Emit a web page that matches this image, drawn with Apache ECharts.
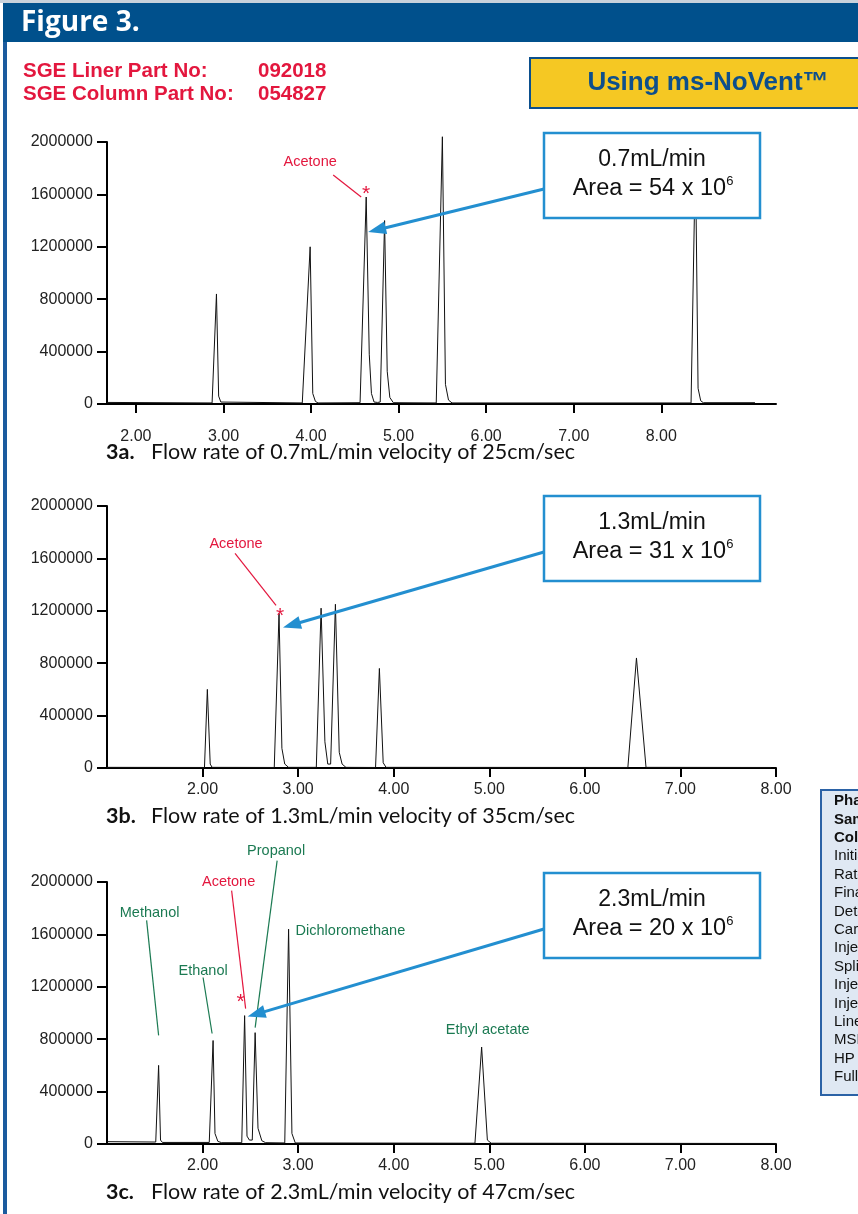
<!DOCTYPE html>
<html>
<head>
<meta charset="utf-8">
<title>Figure 3</title>
<script src="https://cdn.jsdelivr.net/npm/echarts@6/dist/echarts.min.js"></script>
<style>
  html, body { margin: 0; padding: 0; background: #fff; }
  #chart { width: 858px; height: 1214px; }
</style>
</head>
<body>
<div id="chart"></div>
<script>
// values
const yTicks = [0, 400000, 800000, 1200000, 1600000, 2000000];
const xTicks = [2, 3, 4, 5, 6, 7, 8];

// chromatogram traces [time (min), abundance]
const traceA = [
    [1.67, 12000], [2.87, 8000], [2.92, 840000], [2.945, 60000], [2.97, 15000], [2.99, 8000],
    [3.90, 8000], [3.99, 1200000], [4.02, 80000], [4.05, 20000], [4.08, 8000],
    [4.56, 10000], [4.63, 1580000], [4.665, 380000], [4.69, 80000], [4.72, 15000], [4.76, 12000],
    [4.79, 15000], [4.84, 1400000], [4.87, 250000], [4.90, 50000], [4.94, 10000],
    [5.43, 8000], [5.50, 2040000], [5.535, 150000], [5.57, 30000], [5.61, 8000],
    [8.34, 8000], [8.39, 1900000], [8.42, 120000], [8.45, 25000], [8.48, 10000],
    [9.07, 10000]
];
const traceB = [
    [1.0, 5000], [2.02, 4000], [2.05, 600000], [2.08, 30000], [2.10, 5000],
    [2.75, 4000], [2.80, 1180000], [2.83, 150000], [2.86, 30000], [2.90, 5000],
    [3.19, 5000], [3.24, 1220000], [3.28, 200000], [3.31, 30000], [3.33, 20000],
    [3.34, 30000], [3.39, 1250000], [3.43, 120000], [3.46, 30000], [3.50, 5000],
    [3.81, 4000], [3.85, 760000], [3.89, 40000], [3.92, 5000],
    [6.45, 4000], [6.54, 840000], [6.64, 5000],
    [7.95, 4000]
];
const traceC = [
    [1.0, 18000], [1.51, 15000], [1.54, 600000], [1.56, 30000], [1.58, 12000],
    [2.07, 12000], [2.11, 790000], [2.13, 80000], [2.16, 20000], [2.20, 10000],
    [2.41, 10000], [2.44, 980000], [2.465, 60000], [2.49, 30000], [2.52, 30000],
    [2.55, 850000], [2.58, 120000], [2.62, 25000], [2.66, 10000],
    [2.86, 8000], [2.90, 1640000], [2.935, 80000], [2.97, 8000],
    [4.85, 6000], [4.92, 740000], [4.98, 30000], [5.02, 6000],
    [8.0, 4000]
];

// named peaks
const peakNamesA = ['Acetone'];
const peakTimesA = [4.63];
const peakHeightsA = [1580000];
const peakNamesB = ['Acetone'];
const peakTimesB = [2.80];
const peakHeightsB = [1180000];
const peakNamesC = ['Methanol', 'Ethanol', 'Acetone', 'Propanol', 'Dichloromethane', 'Ethyl acetate'];
const peakTimesC = [1.54, 2.11, 2.44, 2.55, 2.90, 4.92];
const peakHeightsC = [600000, 790000, 980000, 850000, 1640000, 740000];

const flowRates = ['0.7mL/min', '1.3mL/min', '2.3mL/min'];
const areas = [54, 31, 20];
const captionIds = ['3a.', '3b.', '3c.'];
const captionTexts = [
    'Flow rate of 0.7mL/min velocity of 25cm/sec',
    'Flow rate of 1.3mL/min velocity of 35cm/sec',
    'Flow rate of 2.3mL/min velocity of 47cm/sec'
];
const conditions = ['Phase:', 'Sample:', 'Column:', 'Initial Temp:', 'Rate:', 'Final Temp:', 'Detector:',
    'Carrier Gas:', 'Injector Temp:', 'Split:', 'Injection Volume:', 'Injection Mode:', 'Liner:',
    'MSD:', 'HP 6890', 'Full scan'];

// look
const SANS = "'Liberation Sans', Arial, Helvetica, sans-serif";
const RED = '#e3173e';
const GREEN = '#1b7a52';
const CALLOUT = '#238fd0';
const NAVY = '#00508c';

const gridTops = [142, 506, 882];
const GRID_H = 262;
const xLabelMargin = [25, 14, 14];

const chart = echarts.init(document.getElementById('chart'), null, { renderer: 'canvas' });

function xAxisFor(i, min, max) {
    return {
        type: 'value', gridIndex: i, min: min, max: max,
        axisLine: { show: true, onZero: false, lineStyle: { color: '#000', width: 2 } },
        axisTick: { show: true, length: 9, customValues: xTicks, lineStyle: { color: '#000', width: 2 } },
        axisLabel: {
            customValues: xTicks, margin: xLabelMargin[i], color: '#222', fontSize: 16, fontFamily: SANS,
            formatter: function (v) { return v.toFixed(2); }
        },
        splitLine: { show: false }
    };
}
function yAxisFor(i) {
    return {
        type: 'value', gridIndex: i, min: 0, max: 2000000, interval: 400000,
        axisLine: { show: true, lineStyle: { color: '#000', width: 2 } },
        axisTick: { show: true, length: 10, lineStyle: { color: '#000', width: 2 } },
        axisLabel: {
            margin: 14, color: '#222', fontSize: 16, fontFamily: SANS,
            formatter: function (v) { return String(v); }
        },
        splitLine: { show: false }
    };
}
function traceSeries(i, data) {
    return {
        type: 'line', xAxisIndex: i, yAxisIndex: i, data: data,
        symbol: 'none', smooth: false, clip: false, silent: true,
        lineStyle: { color: '#111', width: 1 }, z: 3
    };
}

chart.setOption({
    animation: false,
    backgroundColor: '#fff',
    grid: gridTops.map(function (t) {
        return { left: 107, top: t, width: 669, height: GRID_H, containLabel: false, outerBoundsMode: 'none' };
    }),
    xAxis: [xAxisFor(0, 1.67, 9.31), xAxisFor(1, 1, 8), xAxisFor(2, 1, 8)],
    yAxis: [yAxisFor(0), yAxisFor(1), yAxisFor(2)],
    series: [traceSeries(0, traceA), traceSeries(1, traceB), traceSeries(2, traceC)]
});

// ---- annotations ----
const g = [];

// frame and header
g.push({ type: 'rect', shape: { x: 0, y: 0, width: 858, height: 3 }, style: { fill: '#c8d2dc' }, z: 50 });
g.push({ type: 'rect', shape: { x: 3, y: 3, width: 855, height: 39 }, style: { fill: NAVY }, z: 50 });
g.push({ type: 'rect', shape: { x: 3, y: 42, width: 4, height: 1172 }, style: { fill: '#1b5b9e' }, z: 50 });
g.push({ type: 'text', x: 21, y: 23, z: 51, style: {
    text: 'Figure 3.', fill: '#fff', font: "bold 28px 'Open Sans', sans-serif", verticalAlign: 'middle' } });

g.push({ type: 'text', x: 23, y: 71, z: 51, style: { text: 'SGE Liner Part No:', fill: RED,
    font: 'bold 20.5px ' + SANS, verticalAlign: 'middle' } });
g.push({ type: 'text', x: 258, y: 71, z: 51, style: { text: '092018', fill: RED,
    font: 'bold 20.5px ' + SANS, verticalAlign: 'middle' } });
g.push({ type: 'text', x: 23, y: 94.5, z: 51, style: { text: 'SGE Column Part No:', fill: RED,
    font: 'bold 20.5px ' + SANS, verticalAlign: 'middle' } });
g.push({ type: 'text', x: 258, y: 94.5, z: 51, style: { text: '054827', fill: RED,
    font: 'bold 20.5px ' + SANS, verticalAlign: 'middle' } });

g.push({ type: 'rect', shape: { x: 530, y: 58, width: 340, height: 50 }, z: 50,
    style: { fill: '#f5c823', stroke: '#0b4f8d', lineWidth: 2 } });
g.push({ type: 'text', x: 708, y: 83, z: 51, style: { text: 'Using ms-NoVent\u2122', fill: '#0d4f8c',
    font: 'bold 26px ' + SANS, align: 'center', verticalAlign: 'middle' } });

// conditions box on the right, cut by the page edge
g.push({ type: 'rect', shape: { x: 821, y: 790, width: 60, height: 305 }, z: 50,
    style: { fill: '#dfe8f3', stroke: '#2b62a6', lineWidth: 2 } });
conditions.forEach(function (c, k) {
    g.push({ type: 'text', x: 834, y: 801 + k * 18.4, z: 51, style: { text: c, fill: '#111',
        font: (k < 3 ? 'bold ' : '') + '15px ' + SANS, verticalAlign: 'middle' } });
});

// captions
captionIds.forEach(function (id, i) {
    g.push({ type: 'text', x: 106, y: gridTops[i] + GRID_H + 48, z: 51, style: {
        text: '{b|' + id + '}{r|' + captionTexts[i] + '}', verticalAlign: 'middle',
        rich: {
            b: { fontFamily: 'Lato, sans-serif', fontWeight: 'bold', fontSize: 21.5, fill: '#111', width: 45 },
            r: { fontFamily: 'Lato, sans-serif', fontSize: 21.5, fill: '#111' }
        }
    } });
});

// peak labels: offsets (px) from the apex of each named peak
function apex(i, t, h) { return chart.convertToPixel({ gridIndex: i }, [t, h]); }
function leader(p, a, b, color) {
    g.push({ type: 'line', z: 40, shape: { x1: p[0] + a[0], y1: p[1] + a[1], x2: p[0] + b[0], y2: p[1] + b[1] },
        style: { stroke: color, lineWidth: 1.2 } });
}
function label(p, off, text, color, align) {
    g.push({ type: 'text', z: 40, x: p[0] + off[0], y: p[1] + off[1], style: { text: text, fill: color,
        font: '14.5px ' + SANS, align: align || 'center', verticalAlign: 'middle' } });
}
function star(p, off) {
    g.push({ type: 'text', z: 40, x: p[0] + off[0], y: p[1] + off[1], style: { text: '*', fill: RED,
        font: '21px ' + SANS, align: 'center', verticalAlign: 'middle' } });
}

const labelLayout = {
    A: { Acetone: { lab: [-56, -35], l1: [-33, -22], l2: [-5, 0], star: [0, -3] } },
    B: { Acetone: { lab: [-43, -69], l1: [-44, -60], l2: [-3, -8], star: [1, 3] } },
    C: {
        'Methanol': { lab: [-9, -152], l1: [-12, -145], l2: [0, -30] },
        'Ethanol': { lab: [-10, -70], l1: [-10, -63], l2: [-1, -7] },
        'Acetone': { lab: [-16, -134], l1: [-13, -125], l2: [1, -7], star: [-4, -13] },
        'Propanol': { lab: [21, -182], l1: [22, -172], l2: [0, -5] },
        'Dichloromethane': { lab: [7, 2], align: 'left' },
        'Ethyl acetate': { lab: [6, -17] }
    }
};

const panels = [
    { key: 'A', names: peakNamesA, times: peakTimesA, heights: peakHeightsA },
    { key: 'B', names: peakNamesB, times: peakTimesB, heights: peakHeightsB },
    { key: 'C', names: peakNamesC, times: peakTimesC, heights: peakHeightsC }
];
const arrowTipOffset = { A: [2, 35], B: [4, 14], C: [3, 1] };
const boxTops = [133, 496, 873];

panels.forEach(function (pn, i) {
    let acetoneApex = null;
    pn.names.forEach(function (name, k) {
        const p = apex(i, pn.times[k], pn.heights[k]);
        const lay = labelLayout[pn.key][name];
        const color = name === 'Acetone' ? RED : GREEN;
        if (name === 'Acetone') acetoneApex = p;
        if (lay.l1) leader(p, lay.l1, lay.l2, color);
        label(p, lay.lab, name, color, lay.align);
        if (lay.star) star(p, lay.star);
    });

    // callout box
    const bx = 544, by = boxTops[i], bw = 216, bh = 85;
    g.push({ type: 'rect', z: 60, shape: { x: bx, y: by, width: bw, height: bh },
        style: { fill: '#fff', stroke: CALLOUT, lineWidth: 2.5 } });
    g.push({ type: 'text', z: 61, x: bx + bw / 2, y: by + 27, style: { text: flowRates[i], fill: '#111',
        font: '23px ' + SANS, align: 'center', verticalAlign: 'middle' } });
    g.push({ type: 'text', z: 61, x: bx + bw / 2 + 1, y: by + 56, style: {
        text: '{m|Area = ' + areas[i] + ' x 10}{s|6}', align: 'center', verticalAlign: 'middle',
        rich: {
            m: { fontFamily: SANS, fontSize: 23.5, fill: '#111', lineHeight: 28 },
            s: { fontFamily: SANS, fontSize: 13, fill: '#111', lineHeight: 14, verticalAlign: 'top' }
        }
    } });

    // arrow from the box to the acetone peak
    const sx = bx, sy = by + 56;
    const tip = [acetoneApex[0] + arrowTipOffset[pn.key][0], acetoneApex[1] + arrowTipOffset[pn.key][1]];
    const dx = tip[0] - sx, dy = tip[1] - sy, len = Math.sqrt(dx * dx + dy * dy);
    const ux = dx / len, uy = dy / len, L = 18, W = 6.5;
    const base = [tip[0] - ux * L, tip[1] - uy * L];
    g.push({ type: 'line', z: 55, shape: { x1: sx, y1: sy, x2: base[0] + ux * 2, y2: base[1] + uy * 2 },
        style: { stroke: CALLOUT, lineWidth: 3 } });
    g.push({ type: 'polygon', z: 55, shape: { points: [tip,
        [base[0] - uy * W, base[1] + ux * W], [base[0] + uy * W, base[1] - ux * W]] },
        style: { fill: CALLOUT } });
});

chart.setOption({ graphic: g });
</script>
</body>
</html>
